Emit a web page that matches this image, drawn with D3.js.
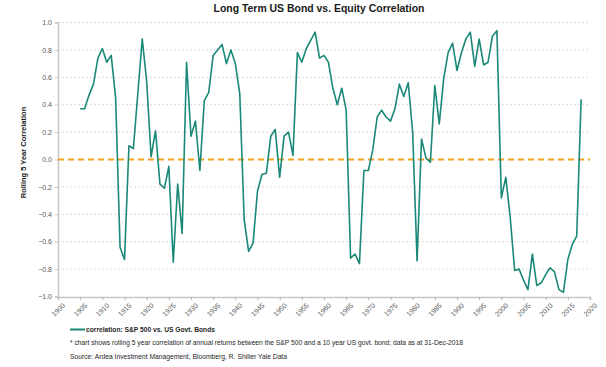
<!DOCTYPE html>
<html>
<head>
<meta charset="utf-8">
<script src="https://cdn.jsdelivr.net/npm/d3@7"></script>
<style>
  html, body { margin: 0; padding: 0; background: #fff; }
  svg { display: block; font-family: "Liberation Sans", Arial, sans-serif; }
</style>
</head>
<body>
<svg id="chart" width="606" height="367"></svg>
<script>
const title = "Long Term US Bond vs. Equity Correlation";
const yAxisLabel = "Rolling 5 Year Correlation";
const seriesName = "correlation: S&P 500 vs. US Govt. Bonds";
const footnote = "* chart shows rolling 5 year correlation of annual returns between the S&P 500 and a 10 year US govt.  bond; data as at 31-Dec-2018";
const sourceNote = "Source: Ardea Investment Management, Bloomberg, R. Shiller Yale Data";

const years = d3.range(1905, 2019);
const correlation = [
  0.37, 0.37, 0.47, 0.55, 0.74, 0.81, 0.71, 0.76, 0.45, -0.64,   // 1905-1914
  -0.73, 0.10, 0.08, 0.48, 0.88, 0.57, 0.02, 0.21, -0.18, -0.21, // 1915-1924
  -0.05, -0.75, -0.18, -0.54, 0.71, 0.17, 0.28, -0.08, 0.43, 0.49, // 1925-1934
  0.76, 0.80, 0.84, 0.70, 0.80, 0.70, 0.48, -0.44, -0.67, -0.61, // 1935-1944
  -0.23, -0.11, -0.10, 0.17, 0.22, -0.13, 0.17, 0.20, 0.03, 0.78, // 1945-1954
  0.71, 0.81, 0.87, 0.93, 0.74, 0.76, 0.71, 0.52, 0.40, 0.52,    // 1955-1964
  0.36, -0.72, -0.69, -0.76, -0.08, -0.08, 0.07, 0.31, 0.36, 0.31, // 1965-1974
  0.28, 0.37, 0.55, 0.46, 0.56, 0.20, -0.74, 0.15, 0.01, -0.02,  // 1975-1984
  0.54, 0.26, 0.59, 0.78, 0.85, 0.65, 0.78, 0.88, 0.93, 0.68,    // 1985-1994
  0.88, 0.69, 0.71, 0.90, 0.94, -0.28, -0.13, -0.42, -0.81, -0.80, // 1995-2004
  -0.88, -0.95, -0.69, -0.92, -0.90, -0.84, -0.79, -0.82, -0.95, -0.97, // 2005-2014
  -0.73, -0.62, -0.56, 0.44                                      // 2015-2018
];
const xTicks = d3.range(1900, 2021, 5);
const yTicks = d3.range(-1.0, 1.0001, 0.2).map(v => Math.round(v * 10) / 10);
const zeroLine = 0;

const plotLeft = 58, plotRight = 590, plotTop = 22.5, plotBottom = 296.5;
const svg = d3.select("#chart");

const x = d3.scaleLinear().domain([1900, 2020]).range([plotLeft, plotRight]);
const y = d3.scaleLinear().domain([-1, 1]).range([plotBottom, plotTop]);

// gridlines
svg.append("g").selectAll("line")
  .data(yTicks.filter(v => v > -1 && v !== 0))
  .join("line")
  .attr("x1", plotLeft).attr("x2", plotRight)
  .attr("y1", d => y(d)).attr("y2", d => y(d))
  .attr("stroke", "#d9d9d9").attr("stroke-width", 1)
  .attr("stroke-dasharray", "2,2");

// y axis
const yAxis = d3.axisLeft(y).tickValues(yTicks).tickFormat(d3.format(".1f")).tickSize(3).tickPadding(3);
const gy = svg.append("g").attr("transform", `translate(${plotLeft},0)`).call(yAxis);
gy.select(".domain").attr("stroke", "#c8c8c8").attr("stroke-width", 1.5);
gy.selectAll(".tick line").attr("stroke", "#c8c8c8");
gy.selectAll(".tick text").attr("fill", "#595959").style("font-size", "7px")
  .style("font-family", "Liberation Sans, Arial, sans-serif");

// x axis
const xAxis = d3.axisBottom(x).tickValues(xTicks).tickFormat(d3.format("d")).tickSize(3).tickPadding(2);
const gx = svg.append("g").attr("transform", `translate(0,${plotBottom + 0.5})`).call(xAxis);
gx.select(".domain").attr("stroke", "#c8c8c8").attr("stroke-width", 1.5);
gx.selectAll(".tick line").attr("stroke", "#b0b0b0");
gx.selectAll(".tick text").attr("fill", "#595959").style("font-size", "7px")
  .style("font-family", "Liberation Sans, Arial, sans-serif")
  .attr("text-anchor", "end")
  .attr("dy", "0.3em")
  .attr("transform", "translate(2,4) rotate(-45)");

// zero line
svg.append("line")
  .attr("x1", plotLeft).attr("x2", plotRight)
  .attr("y1", y(zeroLine)).attr("y2", y(zeroLine))
  .attr("stroke", "#f5a21c").attr("stroke-width", 2)
  .attr("stroke-dasharray", "6,4");

// series line
const line = d3.line().x((d, i) => x(years[i])).y(d => y(d));
svg.append("path")
  .datum(correlation)
  .attr("d", line)
  .attr("fill", "none")
  .attr("stroke", "#1a8878")
  .attr("stroke-width", 1.6)
  .attr("stroke-linejoin", "round");

// title
svg.append("text")
  .attr("x", 319).attr("y", 12)
  .attr("text-anchor", "middle")
  .style("font-size", "11px").style("font-weight", "bold")
  .attr("fill", "#1a1a1a")
  .attr("textLength", 211).attr("lengthAdjust", "spacingAndGlyphs")
  .text(title);

// y axis label
svg.append("text")
  .attr("transform", `translate(26,${(plotTop + plotBottom) / 2 - 7}) rotate(-90)`)
  .attr("text-anchor", "middle")
  .style("font-size", "7.5px").style("font-weight", "bold")
  .attr("fill", "#1a1a1a")
  .text(yAxisLabel);

// legend
svg.append("line")
  .attr("x1", 70).attr("x2", 85)
  .attr("y1", 329.5).attr("y2", 329.5)
  .attr("stroke", "#1a8878").attr("stroke-width", 2);
svg.append("text")
  .attr("x", 86).attr("y", 332)
  .style("font-size", "7px").style("font-weight", "bold")
  .attr("fill", "#262626")
  .attr("textLength", 129).attr("lengthAdjust", "spacingAndGlyphs")
  .text(seriesName);

svg.append("text")
  .attr("x", 70).attr("y", 345)
  .style("font-size", "7px")
  .attr("fill", "#262626")
  .attr("textLength", 393).attr("lengthAdjust", "spacingAndGlyphs")
  .text(footnote);

svg.append("text")
  .attr("x", 70).attr("y", 359)
  .style("font-size", "7px")
  .attr("fill", "#262626")
  .attr("textLength", 217).attr("lengthAdjust", "spacingAndGlyphs")
  .text(sourceNote);
</script>
</body>
</html>
